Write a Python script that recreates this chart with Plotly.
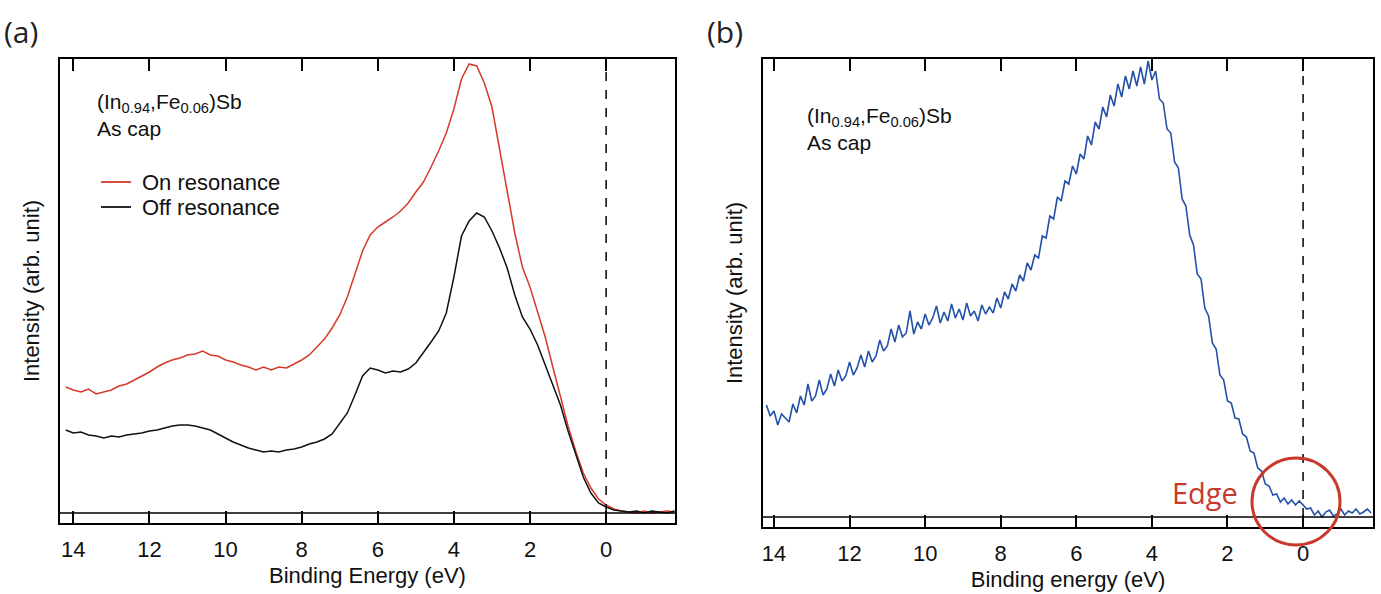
import plotly.graph_objects as go

# ---------------- data ----------------
# Panel (a): energy grid 14.2 -> -1.8 eV in 0.2 eV steps
E_A = [round(14.2 - 0.2 * i, 2) for i in range(81)]
on_res = [126, 123, 121, 124, 119, 121, 123, 127, 129, 133,
          137, 141, 146, 150, 153, 155, 158, 159, 162, 158,
          157, 153, 151, 148, 146, 143, 146, 143, 146, 145,
          149, 153, 158, 166, 174, 185, 198, 216, 238, 262,
          278, 286, 291, 296, 302, 310, 321, 331, 346, 362,
          380, 404, 434, 449, 447, 430, 406, 366, 322, 280,
          246, 226, 202, 176, 146, 116, 87, 62, 40, 25,
          14, 8, 4, 2, 1, 0, 2, 0, 1, 2, 1]
off_res = [83, 80, 81, 78, 77, 75, 77, 76, 78, 79,
           80, 82, 83, 85, 87, 88, 88, 87, 85, 83,
           79, 75, 71, 68, 65, 63, 61, 62, 61, 63,
           64, 66, 69, 71, 74, 79, 89, 100, 118, 137,
           145, 143, 140, 142, 141, 144, 150, 160, 171, 182,
           200, 236, 277, 292, 300, 296, 282, 265, 245, 218,
           196, 184, 168, 148, 129, 108, 82, 58, 36, 20,
           10, 6, 3, 2, 1, 2, 0, 2, 1, 0, 2]

# Panel (b): energy grid 14.2 -> -1.8 eV in 0.1 eV steps
E_B = [round(14.2 - 0.1 * i, 2) for i in range(161)]
blue = [112, 101, 106, 92, 103, 99, 95, 113, 104, 121,
        112, 133, 116, 121, 137, 122, 128, 143, 131, 147,
        136, 141, 155, 142, 149, 162, 150, 166, 155, 161,
        177, 166, 171, 188, 175, 192, 180, 184, 206, 183,
        195, 188, 203, 192, 199, 211, 194, 205, 196, 213,
        199, 208, 197, 214, 201, 206, 196, 212, 203, 210,
        204, 219, 209, 225, 218, 233, 226, 242, 236, 254,
        247, 262, 259, 281, 279, 301, 298, 320, 316, 336,
        333, 351, 343, 363, 358, 381, 372, 395, 388, 410,
        400, 422, 411, 433, 420, 441, 428, 446, 431, 450,
        433, 456, 437, 446, 418, 414, 388, 384, 355, 349,
        318, 311, 282, 272, 243, 238, 209, 201, 174, 168,
        142, 137, 116, 114, 99, 98, 83, 80, 66, 64,
        49, 46, 33, 31, 22, 23, 15, 19, 13, 17,
        12, 16, 12, 8, 9, 2, 6, 0, 5, 7,
        1, 3, 8, 2, 6, 4, 8, 3, 5, 8, 4]

tick_vals = [14, 12, 10, 8, 6, 4, 2, 0]
tick_text = ["14", "12", "10", "8", "6", "4", "2", "0"]
legend_names = ["On resonance", "Off resonance"]

# ---------------- figure ----------------
W, H = 1381, 594
RED = "#d63a2a"
BLACK = "#111111"
BLUE = "#2451a8"
EDGE_RED = "#c8392d"
FONT = "Liberation Sans, Arial, sans-serif"

fig = go.Figure()
fig.add_trace(go.Scatter(x=E_A, y=on_res, mode="lines", name=legend_names[0], showlegend=False,
                         line=dict(color=RED, width=1.5), xaxis="x", yaxis="y"))
fig.add_trace(go.Scatter(x=E_A, y=off_res, mode="lines", name=legend_names[1], showlegend=False,
                         line=dict(color=BLACK, width=1.5), xaxis="x", yaxis="y"))
fig.add_trace(go.Scatter(x=E_B, y=blue, mode="lines", name="blue", showlegend=False,
                         line=dict(color=BLUE, width=1.6), xaxis="x2", yaxis="y2"))

def px_x(p):
    return p / W

def px_y(p):
    return 1 - p / H

xax = dict(
    tickvals=tick_vals, ticktext=tick_text, ticks="inside", ticklen=12, tickwidth=1.5,
    tickcolor="black", showline=True, linecolor="black", linewidth=2, mirror="ticks",
    showgrid=False, zeroline=False, tickfont=dict(family=FONT, size=22, color="#111"),
    ticklabelstandoff=6, title_font=dict(family=FONT, size=22, color="#111"),
    title_standoff=6,
)
yax = dict(
    showticklabels=False, ticks="", showline=True, linecolor="black", linewidth=2,
    mirror=True, showgrid=False, zeroline=False,
    title_font=dict(family=FONT, size=22, color="#111"), title_standoff=12,
)

fig.update_layout(
    width=W, height=H, margin=dict(l=0, r=0, t=0, b=0),
    paper_bgcolor="white", plot_bgcolor="white",
    xaxis=dict(xax, domain=[px_x(60), px_x(675)], range=[14.35, -1.81], anchor="y",
               title_text="Binding Energy (eV)"),
    yaxis=dict(yax, domain=[px_y(523), px_y(59)], range=[-10, 454], anchor="x",
               title_text="Intensity (arb. unit)"),
    xaxis2=dict(xax, domain=[px_x(763), px_x(1373)], range=[14.29, -1.85], anchor="y2",
                title_text="Binding energy (eV)"),
    yaxis2=dict(yax, domain=[px_y(527), px_y(59)], range=[-10, 458], anchor="x2",
                title_text="Intensity (arb. unit)"),
    showlegend=False,
)

shapes = []
shapes.append(dict(type="line", xref="x domain", yref="y", x0=0, x1=1, y0=0, y1=0,
                   line=dict(color="black", width=1.5)))
shapes.append(dict(type="line", xref="x2 domain", yref="y2", x0=0, x1=1, y0=0, y1=0,
                   line=dict(color="black", width=1.5)))
shapes.append(dict(type="line", xref="x", yref="y", x0=0, x1=0, y0=0, y1=454,
                   line=dict(color="black", width=1.5, dash="dash")))
shapes.append(dict(type="line", xref="x2", yref="y2", x0=0, x1=0, y0=0, y1=458,
                   line=dict(color="black", width=1.5, dash="dash")))
shapes.append(dict(type="circle", xref="paper", yref="paper",
                   x0=px_x(1252), x1=px_x(1340), y0=px_y(545), y1=px_y(458),
                   line=dict(color=EDGE_RED, width=3)))
# legend samples (panel a)
for name, col, yy in [(legend_names[0], RED, 182), (legend_names[1], BLACK, 207)]:
    shapes.append(dict(type="line", xref="paper", yref="paper",
                       x0=px_x(101), x1=px_x(131), y0=px_y(yy), y1=px_y(yy),
                       line=dict(color=col, width=1.8)))
fig.update_layout(shapes=shapes)

label = "(In<sub>0.94</sub>,Fe<sub>0.06</sub>)Sb<br>As cap"
annotations = [
    dict(text="(a)", x=px_x(2), y=px_y(31), xref="paper", yref="paper", xanchor="left",
         yanchor="middle", showarrow=False, font=dict(family="Open Sans", size=30, color="#222")),
    dict(text="(b)", x=px_x(705), y=px_y(31), xref="paper", yref="paper", xanchor="left",
         yanchor="middle", showarrow=False, font=dict(family="Open Sans", size=30, color="#222")),
    dict(text=label, x=px_x(95), y=px_y(88), xref="paper", yref="paper", xanchor="left",
         yanchor="top", align="left", showarrow=False,
         font=dict(family=FONT, size=21, color="#111")),
    dict(text=label, x=px_x(805), y=px_y(102), xref="paper", yref="paper", xanchor="left",
         yanchor="top", align="left", showarrow=False,
         font=dict(family=FONT, size=21, color="#111")),
    dict(text="Edge", x=px_x(1205), y=px_y(492), xref="paper", yref="paper", xanchor="center",
         yanchor="middle", showarrow=False, font=dict(family="Open Sans", size=29, color=EDGE_RED)),
]
for name, yy in [(legend_names[0], 182), (legend_names[1], 207)]:
    annotations.append(dict(text=name, x=px_x(140), y=px_y(yy), xref="paper", yref="paper",
                            xanchor="left", yanchor="middle", showarrow=False,
                            font=dict(family=FONT, size=22, color="#111")))
fig.update_layout(annotations=annotations)

fig.write_html("out.html", config={"displayModeBar": False},
               post_script="document.body.style.margin='0';")
